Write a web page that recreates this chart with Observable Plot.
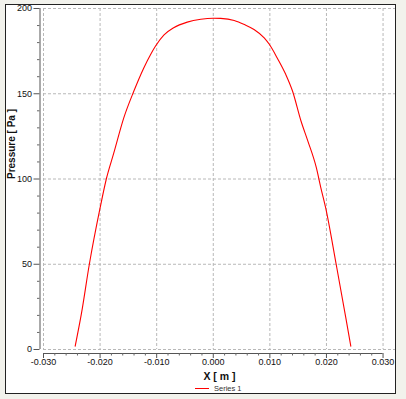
<!DOCTYPE html>
<html>
<head>
<meta charset="utf-8">
<script src="https://cdn.jsdelivr.net/npm/d3@7"></script>
<script src="https://cdn.jsdelivr.net/npm/@observablehq/plot@0.6"></script>
<style>
  html, body { margin: 0; padding: 0; background: #f2f2ec; }
  #wrap { position: relative; width: 406px; height: 399px; overflow: hidden; }
  #box { position: absolute; left: 5px; top: 4px; width: 389px; height: 388px; border: 1.5px solid #222; background: #fff; }
  #chart { position: absolute; left: 0; top: 0; }
  #legend { position: absolute; left: 195px; top: 384px; font: 7.5px "Liberation Sans", Arial, sans-serif; color: #333; display: flex; align-items: center; }
  #legend .sw { width: 14px; height: 0; border-top: 1px solid #ff0000; margin-right: 5px; }
</style>
</head>
<body>
<div id="wrap">
  <div id="box"></div>
  <div id="chart"></div>
  <div id="legend"><span class="sw"></span><span>Series 1</span></div>
</div>
<script>
// Data
const xPos = [-0.0244, -0.0233, -0.0219, -0.0200, -0.0189, -0.0176, -0.0158, -0.0141, -0.0123, -0.0110, -0.0102, -0.0087, -0.0070, -0.0046, -0.0022, 0.0000, 0.0013, 0.0037, 0.0055, 0.0072, 0.0090, 0.0099, 0.0113, 0.0128, 0.0140, 0.0155, 0.0167, 0.0182, 0.0190, 0.0199, 0.0217, 0.0234, 0.0243];
const pressure = [2, 21, 50, 83, 100, 115, 136, 151, 165, 173.5, 178, 184.5, 188.7, 192, 193.7, 194.3, 194.2, 193, 190.6, 187.7, 182.8, 179, 171, 161.4, 151.6, 134, 122.4, 106.8, 95, 82.5, 50.3, 19, 2];
const xTicks = [-0.03, -0.02, -0.01, 0, 0.01, 0.02, 0.03];
const xTickLabels = ["-0.030", "-0.020", "-0.010", "0.000", "0.010", "0.020", "0.030"];
const xMinor = d3.range(-30, 31, 2).filter(v => v % 10 !== 0).map(v => v / 1000);
const yTicks = [0, 50, 100, 150, 200];
const yMinor = d3.range(0, 201, 10).filter(v => v % 50 !== 0);
const xTitle = "X [ m ]";
const yTitle = "Pressure [ Pa ]";

const data = xPos.map((x, i) => ({x, p: pressure[i]}));
const font = '"Liberation Sans", Arial, sans-serif';

const chart = Plot.plot({
  width: 406,
  height: 399,
  marginLeft: 43,
  marginRight: 11,
  marginTop: 8,
  marginBottom: 50,
  style: {background: "transparent", fontFamily: font, fontSize: "9px", color: "#111", overflow: "visible"},
  x: {domain: [-0.030, 0.0322], label: null},
  y: {domain: [0, 200], label: null},
  marks: [
    Plot.gridX(xTicks, {stroke: "#b8b8b8", strokeOpacity: 1, strokeDasharray: "3,2", strokeWidth: 1}),
    Plot.gridY(yTicks, {stroke: "#b8b8b8", strokeOpacity: 1, strokeDasharray: "3,2", strokeWidth: 1}),
    // x axis line, ticks and labels (offset below the frame)
    Plot.ruleY([0], {x1: xTicks[0], x2: xTicks[xTicks.length - 1], dy: 4, stroke: "#555"}),
    Plot.axisX(xTicks, {tickSize: 5, dy: 4, tickPadding: 0.5, stroke: "#555", tickFormat: (d, i) => xTickLabels[i], label: null, fill: "#111"}),
    Plot.axisX(xMinor, {tickSize: 2.5, dy: 4, text: null, stroke: "#666", label: null}),
    // y axis line, ticks and labels (offset left of the frame)
    Plot.ruleX([xTicks[0]], {y1: 0, y2: 200, dx: -3.5, stroke: "#555"}),
    Plot.axisY(yTicks, {tickSize: 6, dx: -3.5, tickPadding: 2, stroke: "#555", label: null, fill: "#111"}),
    Plot.axisY(yMinor, {tickSize: 2.5, dx: -3.5, text: null, stroke: "#666", label: null}),
    // axis titles
    Plot.text([xTitle], {frameAnchor: "bottom", lineAnchor: "middle", dy: 27, text: d => d, fontWeight: "bold", fontSize: 10.5, fill: "#111"}),
    Plot.text([yTitle], {frameAnchor: "left", dx: -32, rotate: -90, text: d => d, fontWeight: "bold", fontSize: 10, fill: "#111"}),
    // the series
    Plot.line(data, {x: "x", y: "p", stroke: "#ff0000", strokeWidth: 1.1, curve: "monotone-x"})
  ]
});
document.getElementById("chart").appendChild(chart);
</script>
</body>
</html>
